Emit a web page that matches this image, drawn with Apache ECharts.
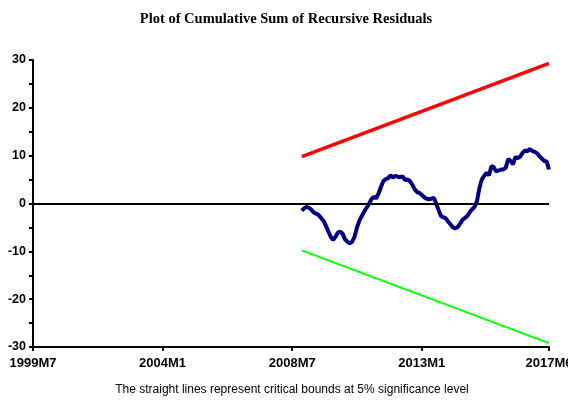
<!DOCTYPE html>
<html>
<head>
<meta charset="utf-8">
<script src="https://cdn.jsdelivr.net/npm/echarts@6/dist/echarts.min.js"></script>
<style>html,body{margin:0;padding:0;background:#fff}#c{width:568px;height:402px}</style>
</head>
<body>
<div id="c"></div>
<script>
// Month categories 1999M7 .. 2017M6
var startYear = 1999, startMonth = 7, endYear = 2017, endMonth = 6;
var months = [];
(function(){
  var y = startYear, m = startMonth;
  while (y < endYear || (y === endYear && m <= endMonth)) {
    months.push(y + 'M' + m);
    m++; if (m > 12) { m = 1; y++; }
  }
})();
var tickLabels = ['1999M7', '2004M1', '2008M7', '2013M1', '2017M6'];
var sampleStart = '2008M11';
// CUSUM values from 2008M11 to 2017M6
var cusum = [-1.5,-1.0,-0.7,-0.9,-1.3,-1.9,-2.1,-2.4,-3.0,-3.6,-4.6,-5.8,-6.9,-7.6,-7.0,-6.1,-5.9,-6.3,-7.5,-8.0,
  -8.3,-8.0,-6.9,-5.0,-3.6,-2.6,-1.7,-0.9,-0.1,0.9,1.4,1.1,2.1,3.5,4.7,5.1,5.3,5.9,5.4,5.8,
  5.6,5.5,5.7,4.9,5.0,4.7,4.0,3.0,2.4,2.2,1.8,1.3,1.0,0.9,1.0,1.2,0.0,-1.4,-2.6,-2.9,
  -3.1,-3.8,-4.4,-5.0,-5.2,-4.9,-4.2,-3.4,-3.0,-2.6,-1.8,-1.2,-0.7,0.5,3.2,5.0,5.8,6.4,5.9,7.8,
  7.6,6.7,6.9,7.1,7.1,7.5,9.3,8.9,8.2,9.7,9.5,9.8,10.6,11.1,10.9,11.4,11.0,10.8,10.5,9.9,
  9.4,8.9,8.8,7.1];
var upperBound = [['2008M11', 9.8], ['2017M6', 29.3]];
var lowerBound = [['2008M11', -9.8], ['2017M6', -29.2]];
var yTicks = [-30, -20, -10, 0, 10, 20, 30];

var s0 = months.indexOf(sampleStart);
var cusumData = cusum.map(function(v, i){ return [months[s0 + i], v]; });
var labelIdx = tickLabels.map(function(l){ return months.indexOf(l); });
function showTick(i){ return labelIdx.indexOf(i) >= 0; }

var chart = echarts.init(document.getElementById('c'), null, {renderer: 'canvas'});
chart.setOption({
  animation: false,
  backgroundColor: '#fff',
  title: [{
    text: 'Plot of Cumulative Sum of Recursive Residuals',
    left: 281, top: 7, textAlign: 'center',
    textStyle: {fontFamily: 'Liberation Serif', fontWeight: 'bold', fontSize: 14.5, color: '#000'}
  }, {
    text: 'The straight lines represent critical bounds at 5% significance level',
    left: 287, top: 379, textAlign: 'center',
    textStyle: {fontFamily: 'Liberation Sans', fontWeight: 'normal', fontSize: 12, color: '#000'}
  }],
  grid: {left: 33, right: 19, top: 60, bottom: 55, containLabel: false, outerBoundsMode: 'none'},
  xAxis: {
    type: 'category', data: months, boundaryGap: false,
    axisLine: {show: true, onZero: false, lineStyle: {color: '#000', width: 2}},
    axisTick: {show: true, interval: showTick, length: 4, lineStyle: {color: '#000', width: 2}},
    axisLabel: {interval: showTick, color: '#000', fontWeight: 'bold', fontSize: 13, fontFamily: 'Liberation Sans', margin: 10, showMaxLabel: true, hideOverlap: false},
    splitLine: {show: false}
  },
  yAxis: {
    type: 'value', min: -30, max: 30, interval: 5,
    axisLine: {show: true, onZero: false, lineStyle: {color: '#000', width: 2}},
    axisTick: {show: true, length: 4, lineStyle: {color: '#000', width: 2}},
    axisLabel: {color: '#000', fontWeight: 'bold', fontSize: 12.5, fontFamily: 'Liberation Sans', margin: 7,
      formatter: function(v){ return yTicks.indexOf(v) >= 0 ? String(v) : ''; }},
    splitLine: {show: false}
  },
  series: [{
    type: 'line', data: lowerBound, showSymbol: false, symbol: 'none',
    lineStyle: {color: '#00ff00', width: 2}, z: 3
  }, {
    type: 'line', data: upperBound, showSymbol: false, symbol: 'none',
    lineStyle: {color: '#ff0000', width: 3.5}, z: 3
  }, {
    type: 'line', data: cusumData, showSymbol: false, symbol: 'none',
    lineStyle: {color: '#000080', width: 4}, z: 4,
    markLine: {
      silent: true, symbol: ['none', 'none'], label: {show: false},
      lineStyle: {color: '#000', width: 2, type: 'solid'},
      data: [{yAxis: 0}]
    }
  }]
});
</script>
</body>
</html>
